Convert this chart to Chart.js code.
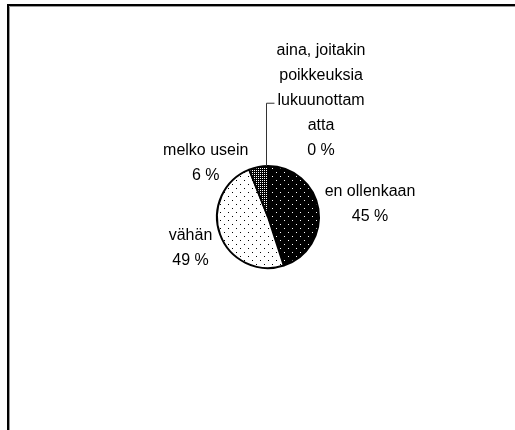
<!DOCTYPE html>
<html>
<head>
<meta charset="utf-8">
<script src="https://cdn.jsdelivr.net/npm/chart.js@4/dist/chart.umd.min.js"></script>
<style>
  html, body { margin: 0; padding: 0; background: #fff; overflow: hidden; }
  #wrap { width: 515px; height: 430px; }
</style>
</head>
<body>
<div id="wrap"><canvas id="c" width="515" height="430"></canvas></div>
<script>
// ---- data ----
const categories = ['aina, joitakin poikkeuksia lukuunottamatta', 'en ollenkaan', 'vähän', 'melko usein'];
const values = [0, 45, 49, 6];
// wrapped label text as shown in the chart
const labelLines = [
  ['aina, joitakin', 'poikkeuksia', 'lukuunottam', 'atta'],
  ['en ollenkaan'],
  ['vähän'],
  ['melko usein']
];

// ---- layout hints (label block centre, in pie-radius units from the pie centre) ----
const labelPlacement = [
  { kx: 1.04, ky: -2.28, leader: true },
  { kx: 2.0, ky: -0.25 },
  { kx: -1.52, ky: 0.6 },
  { kx: -1.22, ky: -1.06 }
];

function makePattern(size, bg, fg, dots) {
  const c = document.createElement('canvas');
  c.width = size; c.height = size;
  const g = c.getContext('2d');
  g.fillStyle = bg; g.fillRect(0, 0, size, size);
  g.fillStyle = fg;
  dots.forEach(([x, y]) => g.fillRect(x, y, 1, 1));
  return g.createPattern(c, 'repeat');
}

const patBlack = makePattern(8, '#000', '#fff', [[0, 0], [4, 4]]);
const patWhite = makePattern(8, '#fff', '#000', [[0, 0], [4, 4]]);
const patDense = makePattern(4, '#000', '#fff', [[0, 0], [2, 2], [2, 0], [0, 2]]);
const fills = [patDense, patBlack, patWhite, patDense];

const FONT = '16px "Liberation Sans", Arial, sans-serif';
const LINE_H = 25;

const frame = {
  id: 'frame',
  beforeDraw(chart) {
    const g = chart.ctx;
    g.save();
    g.fillStyle = '#fff';
    g.fillRect(0, 0, chart.width, chart.height);
    g.strokeStyle = '#000';
    g.lineWidth = 2;
    g.strokeRect(8, 5, 1000, 1000);
    g.strokeStyle = '#999';
    g.lineWidth = 1;
    g.beginPath();
    g.moveTo(9.5, 1000); g.lineTo(9.5, 6.5); g.lineTo(1000, 6.5);
    g.stroke();
    g.restore();
  }
};

const labels = {
  id: 'pieLabels',
  afterDatasetsDraw(chart) {
    const g = chart.ctx;
    const meta = chart.getDatasetMeta(0);
    g.save();
    g.font = FONT;
    g.fillStyle = '#000';
    g.textAlign = 'center';
    g.textBaseline = 'middle';
    meta.data.forEach((arc, i) => {
      const p = labelPlacement[i];
      const r = arc.outerRadius;
      const lines = labelLines[i].concat([values[i] + ' %']);
      const cx = arc.x + p.kx * r;
      const cy = arc.y + p.ky * r;
      const top = cy - (lines.length - 1) * LINE_H / 2;
      lines.forEach((t, j) => g.fillText(t, cx, top + j * LINE_H));
      if (p.leader) {
        const mid = (arc.startAngle + arc.endAngle) / 2;
        const px = arc.x + Math.cos(mid) * r;
        const py = arc.y + Math.sin(mid) * r;
        const ly = top + 2 * LINE_H + 2;
        const w = g.measureText(lines[2]).width;
        g.strokeStyle = '#333';
        g.lineWidth = 1;
        g.beginPath();
        g.moveTo(Math.round(px) - 1.5, py);
        g.lineTo(Math.round(px) - 1.5, ly + 0.5);
        g.lineTo(cx - w / 2 - 3, ly + 0.5);
        g.stroke();
      }
    });
    g.restore();
  }
};

new Chart(document.getElementById('c'), {
  type: 'pie',
  data: {
    labels: categories,
    datasets: [{
      data: values,
      backgroundColor: fills,
      borderColor: '#000',
      borderWidth: 2,
      hoverOffset: 0,
      offset: 0,
      radius: 51
    }]
  },
  options: {
    responsive: false,
    animation: false,
    events: [],
    rotation: 0,
    layout: { padding: { left: 168, right: 147, top: 117, bottom: 113 } },
    plugins: { legend: { display: false }, tooltip: { enabled: false }, title: { display: false } }
  },
  plugins: [frame, labels]
});
</script>
</body>
</html>
